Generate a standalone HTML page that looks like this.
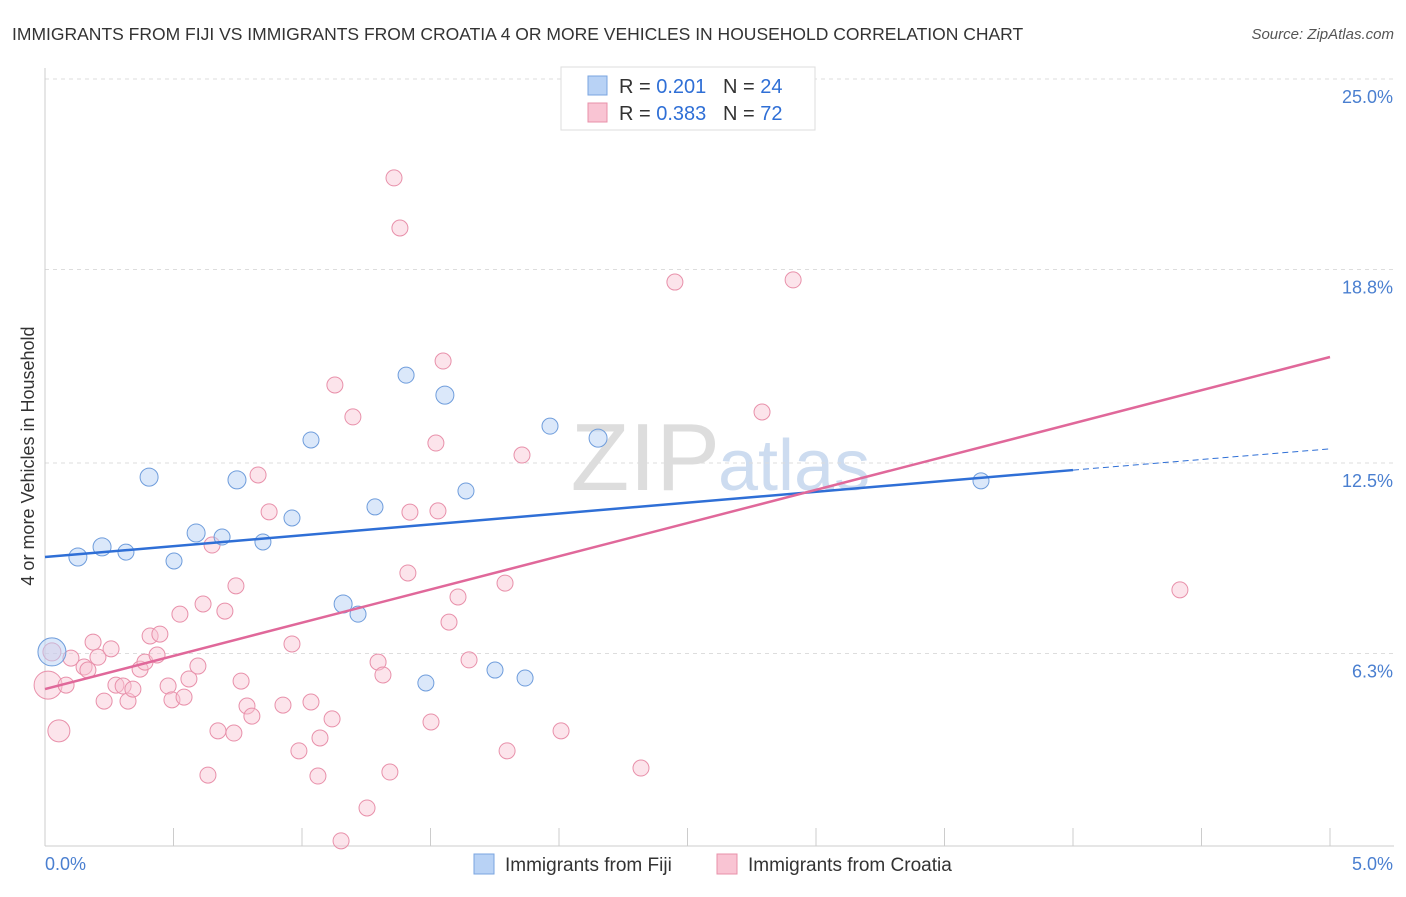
<!DOCTYPE html>
<html><head><meta charset="utf-8"><style>
body{margin:0;background:#fff;font-family:"Liberation Sans",sans-serif;}
svg text{font-family:"Liberation Sans",sans-serif;}
</style></head><body>
<svg id="chart" width="1406" height="892">
<text x="12" y="40" font-size="17.5" fill="#333">IMMIGRANTS FROM FIJI VS IMMIGRANTS FROM CROATIA 4 OR MORE VEHICLES IN HOUSEHOLD CORRELATION CHART</text>
<text x="1394" y="39" font-size="15" fill="#555" font-style="italic" text-anchor="end">Source: ZipAtlas.com</text>
<text x="720" y="490" font-size="96" fill="#ddd" font-family="Liberation Serif" text-anchor="end">ZIP</text>
<text x="718" y="490" font-size="72" fill="#cddcf0">atlas</text>
<g id="grid"></g>
<g id="axes"></g>
<g id="marks"></g>
<text transform="translate(34,456) rotate(-90)" font-size="18" fill="#333" text-anchor="middle">4 or more Vehicles in Household</text>
<g>
<rect x="561" y="67" width="254" height="63" fill="#fff" stroke="#ddd"/>
<rect x="588" y="76" width="19" height="19" fill="#b8d2f5" stroke="#7aa4e0"/>
<text x="619" y="93" font-size="20" fill="#333">R = <tspan fill="#2f6fd6">0.201</tspan>&#160;&#160;&#160;N = <tspan fill="#2f6fd6">24</tspan></text>
<rect x="588" y="103" width="19" height="19" fill="#f9c4d3" stroke="#e890aa"/>
<text x="619" y="120" font-size="20" fill="#333">R = <tspan fill="#2f6fd6">0.383</tspan>&#160;&#160;&#160;N = <tspan fill="#2f6fd6">72</tspan></text>
</g>
<g>
<rect x="474" y="854" width="20" height="20" fill="#b8d2f5" stroke="#7aa4e0"/>
<text x="505" y="871" font-size="19" fill="#333">Immigrants from Fiji</text>
<rect x="717" y="854" width="20" height="20" fill="#f9c4d3" stroke="#e890aa"/>
<text x="748" y="871" font-size="19" fill="#333">Immigrants from Croatia</text>
</g>
</svg>
<script>
const yTicks=[25.0,18.8,12.5,6.3];
const yTickLabels=["25.0%","18.8%","12.5%","6.3%"];
const xTickLabels=["0.0%","5.0%"];
const fijiX=[0.027,0.128,0.222,0.315,0.405,0.502,0.588,0.689,0.747,0.848,0.961,1.035,1.160,1.218,1.284,1.405,1.482,1.556,1.638,1.751,1.868,1.965,2.152,3.642];
const fijiY=[6.35,9.44,9.77,9.6,12.04,9.31,10.22,10.09,11.95,9.93,10.71,13.25,7.91,7.58,11.07,15.36,5.34,14.71,11.59,5.76,5.5,13.7,13.31,11.92];
const fijiR=[14,9,9,8,9,8,9,8,9,8,8,8,9,8,8,8,8,9,8,8,8,8,9,8];
const croX=[0.012,0.054,0.027,0.082,0.101,0.152,0.167,0.187,0.206,0.230,0.257,0.276,0.304,0.323,0.342,0.370,0.389,0.409,0.436,0.447,0.479,0.494,0.525,0.541,0.560,0.595,0.615,0.634,0.650,0.673,0.700,0.735,0.743,0.763,0.786,0.805,0.829,0.872,0.926,0.961,0.988,1.035,1.062,1.070,1.117,1.128,1.152,1.198,1.253,1.296,1.315,1.342,1.358,1.381,1.412,1.420,1.502,1.521,1.529,1.549,1.572,1.607,1.650,1.790,1.798,1.856,2.008,2.319,2.451,2.790,2.911,4.416];
const croY=[5.27,3.78,6.35,5.27,6.15,5.86,5.76,6.67,6.18,4.75,6.45,5.27,5.24,4.75,5.14,5.79,6.02,6.87,6.25,6.93,5.24,4.79,7.58,4.88,5.47,5.89,7.91,2.34,9.83,3.78,7.68,3.71,8.50,5.40,4.59,4.26,12.11,10.91,4.62,6.61,3.13,4.72,2.31,3.55,4.17,15.04,0.20,14.0,1.27,6.02,5.6,2.44,21.78,20.15,8.92,10.9,4.07,13.15,10.94,15.82,7.32,8.14,6.09,8.59,3.13,12.76,3.78,2.57,18.39,14.16,18.46,8.37];
const croR=[14,11,9,8,8,8,8,8,8,8,8,8,8,8,8,8,8,8,8,8,8,8,8,8,8,8,8,8,8,8,8,8,8,8,8,8,8,8,8,8,8,8,8,8,8,8,8,8,8,8,8,8,8,8,8,8,8,8,8,8,8,8,8,8,8,8,8,8,8,8,8,8];
const fijiLine=[[0,9.44],[4.0,12.27],[5.0,12.96]];
const croLine=[[0,5.14],[5.0,15.95]];
const NS="http://www.w3.org/2000/svg";
const X=v=>45+v*257, Y=v=>847-v*30.72;
function mk(tag,attrs,parent){const e=document.createElementNS(NS,tag);for(const k in attrs)e.setAttribute(k,attrs[k]);document.getElementById(parent).appendChild(e);return e;}
yTicks.forEach((t,i)=>{
 const g=mk('line',{x1:45,x2:1394,y1:Y(t),y2:Y(t),stroke:'#ddd','stroke-dasharray':'4,4'},'grid');
 
 
 const l=mk('text',{x:1393,y:Y(t)+24,'font-size':18,fill:'#4a7fd0','text-anchor':'end'},'axes');l.textContent=yTickLabels[i];
 
 
});
mk('line',{x1:45,x2:45,y1:68,y2:846,stroke:'#ccc'},'axes');
mk('line',{x1:45,x2:1394,y1:846,y2:846,stroke:'#ccc'},'axes');
for(let i=0;i<=10;i++){const t=mk('line',{x1:X(i*0.5),x2:X(i*0.5),y1:828,y2:846,stroke:'#ccc'},'axes');
 
 }
const x0=mk('text',{x:45,y:870,'font-size':18,fill:'#4a7fd0'},'axes');x0.textContent=xTickLabels[0];


const x1=mk('text',{x:1393,y:870,'font-size':18,fill:'#4a7fd0','text-anchor':'end'},'axes');x1.textContent=xTickLabels[1];


croX.forEach((v,i)=>{const c=mk('circle',{cx:X(v),cy:Y(croY[i]),r:croR[i],fill:'rgba(249,196,211,0.45)',stroke:'#e890aa','stroke-width':1},'marks');
 
 });
fijiX.forEach((v,i)=>{const c=mk('circle',{cx:X(v),cy:Y(fijiY[i]),r:fijiR[i],fill:'rgba(184,210,245,0.5)',stroke:'#6f9ddc','stroke-width':1},'marks');
 
 });
const fl=mk('line',{x1:X(fijiLine[0][0]),y1:Y(fijiLine[0][1]),x2:X(fijiLine[1][0]),y2:Y(fijiLine[1][1]),stroke:'#2f6fd6','stroke-width':2.5},'marks');


const fd=mk('line',{x1:X(fijiLine[1][0]),y1:Y(fijiLine[1][1]),x2:X(fijiLine[2][0]),y2:Y(fijiLine[2][1]),stroke:'#2f6fd6','stroke-width':1,'stroke-dasharray':'6,4'},'marks');


const cl=mk('line',{x1:X(croLine[0][0]),y1:Y(croLine[0][1]),x2:X(croLine[1][0]),y2:Y(croLine[1][1]),stroke:'#e0689a','stroke-width':2.5},'marks');


</script>
</body></html>
